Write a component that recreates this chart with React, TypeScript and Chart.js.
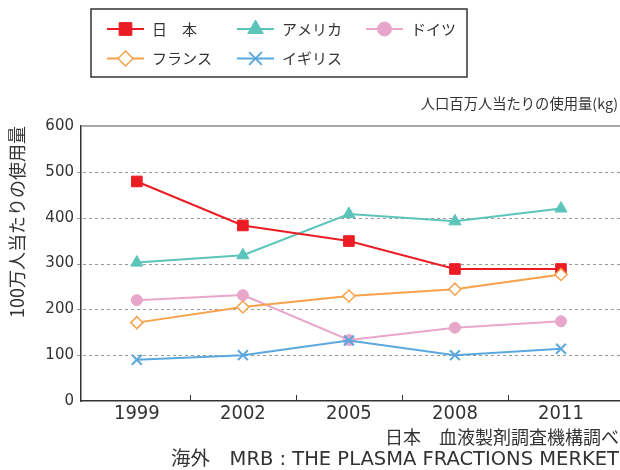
import React, { useEffect, useRef } from "react";
import { Chart, registerables } from "chart.js";
import { drawPoint } from "chart.js/helpers";

Chart.register(...registerables);

// ---- data ----
const years = [1999, 2002, 2005, 2008, 2011];
const japan = [479, 383, 349, 288, 288];
const usa = [302, 318, 408, 392, 420];
const germany = [220, 231, 133, 160, 174];
const france = [171, 205, 229, 244, 276];
const uk = [90, 100, 132, 100, 114];
const seriesNames = ["日　本", "アメリカ", "ドイツ", "フランス", "イギリス"];
const yTickValues = [0, 100, 200, 300, 400, 500, 600];
const yGridValues = [100, 200, 300, 400, 500];
const xTickMarkValues = [2000.5, 2003.5, 2006.5, 2009.5];
const unitTitle = "人口百万人当たりの使用量(kg)";
const yTitle = "100万人当たりの使用量";
const sourceNotes = ["日本　血液製剤調査機構調べ", "海外　MRB : THE PLASMA FRACTIONS MERKET"];

const JP = "'Noto Sans CJK JP', 'Noto Sans', sans-serif";
const TEXT = "#333333";

const styles = [
  { color: "#ec1c24", bg: "#ec1c24", pointStyle: "rect", r: 7.5, lr: 9, pbw: 1 },
  { color: "#5cc4b9", bg: "#5cc4b9", pointStyle: "triangle", r: 7, lr: 9, pbw: 1 },
  { color: "#e8a6ca", bg: "#e8a6ca", pointStyle: "circle", r: 5.5, lr: 7, pbw: 1 },
  { color: "#f7a24a", bg: "#ffffff", pointStyle: "rectRot", r: 6, lr: 7.5, pbw: 1.5 },
  { color: "#5aa8dd", bg: "#5aa8dd", pointStyle: "crossRot", r: 7, lr: 9, pbw: 2 },
];
const seriesValues = [japan, usa, germany, france, uk];
const drawOrder = [4, 5, 3, 2, 1];

const decorPlugin = {
  id: "customDecor",
  beforeDatasetsDraw(chart: any) {
    const ctx = chart.ctx;
    const area = chart.chartArea;
    const ys = chart.scales.y;
    ctx.save();
    ctx.strokeStyle = "#9a9a9a";
    ctx.lineWidth = 1;
    ctx.setLineDash([3, 3]);
    yGridValues.forEach((v) => {
      const py = Math.round(ys.getPixelForValue(v)) + 0.5;
      ctx.beginPath();
      ctx.moveTo(area.left - 4, py);
      ctx.lineTo(area.right, py);
      ctx.stroke();
    });
    ctx.setLineDash([]);
    ctx.strokeStyle = "#8a8a8a";
    ctx.lineWidth = 1.5;
    ctx.beginPath();
    const yTop = ys.getPixelForValue(600);
    ctx.moveTo(area.left, yTop);
    ctx.lineTo(area.right, yTop);
    ctx.stroke();
    ctx.restore();
  },
  afterDraw(chart: any) {
    const ctx = chart.ctx;
    const area = chart.chartArea;
    const xs = chart.scales.x;
    ctx.save();
    // x tick marks (upward, between categories)
    ctx.strokeStyle = TEXT;
    ctx.lineWidth = 1;
    xTickMarkValues.forEach((v) => {
      const px = Math.round(xs.getPixelForValue(v)) + 0.5;
      ctx.beginPath();
      ctx.moveTo(px, area.bottom);
      ctx.lineTo(px, area.bottom - 6);
      ctx.stroke();
    });

    // legend box
    ctx.strokeStyle = "#333";
    ctx.lineWidth = 1.5;
    ctx.strokeRect(91, 9, 376, 68);
    const cols = [107, 237, 366];
    const rows = [29, 58.5];
    const pos = [
      [0, 0], [1, 0], [2, 0], [0, 1], [1, 1],
    ];
    ctx.font = `15px ${JP}`;
    ctx.textBaseline = "middle";
    ctx.textAlign = "left";
    seriesNames.forEach((name, i) => {
      const st = styles[i];
      const x0 = cols[pos[i][0]];
      const y0 = rows[pos[i][1]];
      ctx.strokeStyle = st.color;
      ctx.lineWidth = 2;
      ctx.beginPath();
      ctx.moveTo(x0, y0);
      ctx.lineTo(x0 + 37, y0);
      ctx.stroke();
      ctx.fillStyle = st.bg;
      ctx.strokeStyle = st.color;
      ctx.lineWidth = st.pbw;
      drawPoint(ctx, { pointStyle: st.pointStyle, radius: st.lr, rotation: 0, borderWidth: st.pbw }, x0 + 18.5, y0);
      ctx.fillStyle = TEXT;
      ctx.fillText(name, x0 + 45, y0);
    });

    // unit title
    ctx.fillStyle = TEXT;
    ctx.textAlign = "right";
    ctx.font = `14.3px ${JP}`;
    ctx.fillText(unitTitle, 618, 104);

    // source notes
    ctx.font = `18px ${JP}`;
    ctx.fillText(sourceNotes[0], 619, 437);
    ctx.font = `19.5px 'DejaVu Sans', ${JP}`;
    ctx.fillText(sourceNotes[1], 619, 460);
    ctx.restore();
  },
};

export default function App() {
  const ref = useRef<HTMLCanvasElement | null>(null);
  useEffect(() => {
    if (!ref.current) return;
    const chart = new Chart(ref.current, {
      type: "line",
      data: {
        datasets: seriesNames.map((name, i) => ({
          label: name,
          data: years.map((x, j) => ({ x, y: seriesValues[i][j] })),
          borderColor: styles[i].color,
          backgroundColor: styles[i].bg,
          pointBackgroundColor: styles[i].bg,
          pointBorderColor: styles[i].color,
          pointStyle: styles[i].pointStyle as any,
          pointRadius: styles[i].r,
          pointBorderWidth: styles[i].pbw,
          borderWidth: 2,
          fill: false,
          tension: 0,
          order: drawOrder[i],
        })),
      },
      options: {
        responsive: false,
        animation: false,
        events: [],
        layout: { autoPadding: false, padding: { top: 126, left: 0, right: 0, bottom: 40 } },
        plugins: { legend: { display: false }, tooltip: { enabled: false }, title: { display: false } },
        scales: {
          x: {
            type: "linear",
            min: 1997.42,
            max: 2012.67,
            afterBuildTicks: (scale: any) => {
              scale.ticks = years.map((v) => ({ value: v }));
            },
            afterFit: (scale: any) => {
              scale.height = 29;
              scale.paddingLeft = 0;
              scale.paddingRight = 0;
            },
            ticks: {
              callback: (v: any) => String(v),
              color: TEXT,
              padding: 1,
              maxRotation: 0,
              autoSkip: false,
              font: { family: "'DejaVu Sans Condensed', 'DejaVu Sans', sans-serif", size: 20 },
            },
            grid: { display: false, drawTicks: false },
            border: { display: true, color: "#333", width: 1.5 },
          },
          y: {
            min: 0,
            max: 600,
            afterBuildTicks: (scale: any) => {
              scale.ticks = yTickValues.map((v) => ({ value: v }));
            },
            afterFit: (scale: any) => {
              scale.width = 81;
            },
            ticks: {
              color: TEXT,
              padding: 3,
              font: { family: "'DejaVu Sans', sans-serif", size: 15 },
            },
            grid: {
              drawOnChartArea: false,
              drawTicks: true,
              tickLength: 4,
              tickColor: "rgba(0,0,0,0)",
            },
            border: { display: true, color: "#333", width: 1.5 },
            title: {
              display: true,
              text: yTitle,
              align: "end",
              color: TEXT,
              padding: { top: 6, bottom: 0 },
              font: { family: JP, size: 18 },
            },
          },
        },
      },
      plugins: [decorPlugin],
    } as any);
    return () => chart.destroy();
  }, []);
  return (
    <div style={{ position: "absolute", left: 0, top: 0, width: 620, height: 470, background: "#fff" }}>
      <canvas ref={ref} width={620} height={470} style={{ display: "block" }} />
    </div>
  );
}
